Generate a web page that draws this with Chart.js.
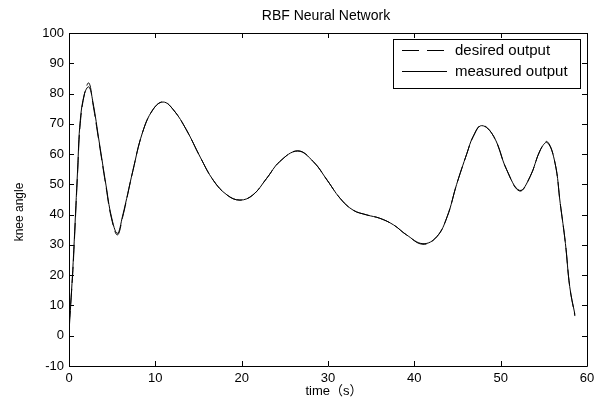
<!DOCTYPE html>
<html>
<head>
<meta charset="utf-8">
<script src="https://cdn.jsdelivr.net/npm/chart.js@4.4.1/dist/chart.umd.min.js"></script>
<style>
html,body{margin:0;padding:0;background:#fff;}
#wrap{width:606px;height:401px;}
</style>
</head>
<body>
<div id="wrap"><canvas id="c" width="606" height="401"></canvas></div>
<script>
const chartTitle = "RBF Neural Network";
const xTitle = "time（s）";
const yTitle = "knee angle";
const seriesLabels = ["desired output", "measured output"];
const times = [0,0.4,0.6,1.0,1.3,1.8,2.3,2.75,3.5,4.3,4.9,5.6,6.2,7.4,8.5,9.7,10.9,12.1,13.6,15.2,16.7,18.3,19.8,21.3,22.9,24.4,26.5,28.3,29.9,31.4,32.9,34.5,36.0,37.6,39.1,41.0,42.6,43.8,44.9,46.1,46.8,47.8,49.2,50.7,52.2,53.4,54.6,55.4,56.3,56.9,57.5,58.0,58.6];
const desired = [3,19,30,54,70,80,83.5,77,63.5,49,39,33.3,39,54.5,67,74.6,77.3,74.6,68,59,51.4,46.5,44.8,46.5,52,57.5,61.1,57.5,51.4,45.4,41.5,39.9,38.8,36.6,33.3,30.2,32.7,39.3,50,60.3,65.7,69.6,65.8,54.8,47.8,52.5,61.4,64.1,57,43.7,30.5,16.2,6.5];
const measured = [1,20,31,55,71,80,82.2,77.5,64,49.5,39.5,33.8,39.5,54.5,67,74.6,77.2,74.6,68,59,51.4,46.5,44.8,46.5,52,57.5,61,57.5,51.4,45.4,41.5,39.9,38.8,36.6,33.3,30.4,32.7,39.3,50,60.3,65.7,69.4,65.8,54.8,48,52.5,61.4,63.8,57,43.7,30.5,16.2,7];
const xTicks = [0,10,20,30,40,50,60];
const yTicks = [-10,0,10,20,30,40,50,60,70,80,90,100];

const pts = (arr) => arr.map((v,i)=>({x:times[i], y:v}));
const FONT = "'Liberation Sans', Arial, 'Noto Sans CJK SC', sans-serif";
Chart.defaults.font.family = FONT;
Chart.defaults.color = "#000";

const framePlugin = {
  id:'frame',
  afterDraw(chart){
    const {ctx, chartArea:a, scales} = chart;
    ctx.save();
    ctx.strokeStyle = '#000';
    ctx.lineWidth = 1;
    ctx.beginPath();
    ctx.rect(Math.round(a.left)+0.5, Math.round(a.top)+0.5, Math.round(a.right-a.left), Math.round(a.bottom-a.top));
    ctx.stroke();
    const tl = 5;
    ctx.beginPath();
    xTicks.forEach(t=>{
      const x = Math.round(scales.x.getPixelForValue(t))+0.5;
      ctx.moveTo(x, a.bottom); ctx.lineTo(x, a.bottom - tl);
      ctx.moveTo(x, a.top); ctx.lineTo(x, a.top + tl);
    });
    yTicks.forEach(t=>{
      const y = Math.round(scales.y.getPixelForValue(t))+0.5;
      ctx.moveTo(a.left, y); ctx.lineTo(a.left + tl, y);
      ctx.moveTo(a.right, y); ctx.lineTo(a.right - tl, y);
    });
    ctx.stroke();
    // titles
    ctx.fillStyle = '#000';
    ctx.textAlign = 'center';
    ctx.textBaseline = 'middle';
    ctx.font = "14px " + FONT;
    ctx.fillText(chartTitle, 326, 16);
    ctx.font = "13px " + FONT;
    ctx.fillText(xTitle, 334, 391);
    ctx.save();
    ctx.translate(20, 212);
    ctx.rotate(-Math.PI/2);
    ctx.font = "12px " + FONT;
    ctx.fillText(yTitle, 0, 0);
    ctx.restore();
    // legend
    ctx.textAlign = 'left';
    const bx = 393.5, by = 39.5, bw = 187, bh = 49;
    ctx.fillStyle = '#fff';
    ctx.fillRect(bx, by, bw, bh);
    ctx.strokeRect(bx, by, bw, bh);
    ctx.font = "15px " + FONT;
    ctx.fillStyle = '#000';
    const rows = [by + 10, by + 31.5];
    chart.data.datasets.forEach((ds, i)=>{
      const y = Math.round(rows[i]) + 0.5;
      ctx.setLineDash(ds.legendDash || []);
      ctx.beginPath();
      ctx.moveTo(402, y); ctx.lineTo(447, y);
      ctx.stroke();
      ctx.setLineDash([]);
      ctx.fillText(ds.label, 455, y);
    });
    ctx.restore();
  }
};

new Chart(document.getElementById('c'), {
  type:'line',
  data:{
    datasets:[
      {label:seriesLabels[0], data:pts(desired), borderColor:'#000', borderWidth:1, borderDash:[16,6], legendDash:[17,8], pointRadius:0, tension:0.4, fill:false},
      {label:seriesLabels[1], data:pts(measured), borderColor:'#000', borderWidth:1, pointRadius:0, tension:0.4, fill:false}
    ]
  },
  options:{
    responsive:false,
    animation:false,
    layout:{padding:{left:0,right:19,top:33,bottom:0}},
    plugins:{
      legend:{display:false},
      tooltip:{enabled:false},
      title:{display:false}
    },
    scales:{
      x:{
        type:'linear', min:0, max:60,
        afterFit(s){ s.height = 35; },
        afterBuildTicks(s){ s.ticks = xTicks.map(v=>({value:v})); },
        grid:{display:false, drawTicks:false},
        border:{display:false},
        ticks:{padding:5, font:{size:13}, color:'#000', maxRotation:0},
        title:{display:false}
      },
      y:{
        min:-10, max:100,
        afterFit(s){ s.width = 69; },
        afterBuildTicks(s){ s.ticks = yTicks.map(v=>({value:v})); },
        grid:{display:false, drawTicks:false},
        border:{display:false},
        ticks:{padding:5, font:{size:13}, color:'#000'},
        title:{display:false}
      }
    }
  },
  plugins:[framePlugin]
});
</script>
</body>
</html>
